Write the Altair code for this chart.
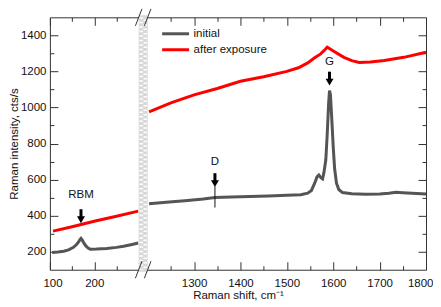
import altair as alt
import pandas as pd

# ---------------- data ----------------
init_left_x = [105, 118, 131, 142, 153, 160, 165, 168, 170, 173, 177, 181, 186, 191, 205, 228, 250, 266, 285, 299]
init_left_y = [196, 198, 203, 210, 224, 240, 256, 268, 274, 264, 246, 232, 220, 214, 215, 218, 224, 230, 240, 248]

exp_left_x = [107, 150, 202, 250, 299]
exp_left_y = [314, 338, 370, 397, 425]

init_right_x = [1203, 1240, 1280, 1320, 1345, 1380, 1420, 1460, 1500, 1530, 1545, 1553,
                1560, 1565, 1569, 1573, 1577, 1580, 1584, 1587, 1590, 1592, 1594, 1597,
                1600, 1603, 1607, 1612, 1620, 1640, 1670, 1700, 1720, 1735, 1750, 1770, 1800]
init_right_y = [466, 474, 482, 492, 500, 503, 506, 509, 513, 516, 525, 540,
                580, 615, 625, 612, 604, 640, 710, 850, 1020, 1094, 1070, 930,
                780, 660, 580, 545, 528, 521, 519, 520, 524, 530, 527, 524, 520]

exp_right_x = [1203, 1250, 1300, 1350, 1400, 1450, 1500, 1525, 1545, 1560, 1573, 1580,
               1587, 1595, 1602, 1623, 1640, 1656, 1680, 1710, 1752, 1800]
exp_right_y = [975, 1025, 1070, 1105, 1145, 1170, 1200, 1220, 1247, 1276, 1297, 1315,
               1334, 1322, 1310, 1278, 1260, 1250, 1252, 1260, 1278, 1306]

series_names = ["initial", "after exposure"]
series_colors = ["#555555", "#ff0000"]

x_domain = [100, 300, 1200, 1800]       # broken axis: 100-300 | 1200-1800
y_domain = [100, 1500]
x_major = [100, 200, 1300, 1400, 1500, 1600, 1700, 1800]
x_minor = [150, 250, 1250, 1350, 1450, 1550, 1650, 1750]
y_major = [200, 400, 600, 800, 1000, 1200, 1400]
y_minor = [300, 500, 700, 900, 1100, 1300]

ann_name = ["RBM", "D", "G"]
ann_x = [170, 1345, 1592]
ann_tip = [358, 558, 1121]
ann_text_y = [516, 695, 1250]
d_tick_x = [1345]
d_tick_y = [445]
d_tick_y2 = [562]

# ---------------- tables ----------------
rows = []
for xv, yv, s, seg in [(init_left_x, init_left_y, "initial", "L"),
                       (init_right_x, init_right_y, "initial", "R"),
                       (exp_left_x, exp_left_y, "after exposure", "L"),
                       (exp_right_x, exp_right_y, "after exposure", "R")]:
    for x, y in zip(xv, yv):
        rows.append({"x": x, "y": y, "series": s, "seg": seg})
df = pd.DataFrame(rows)

brk_lo, brk_hi = x_domain[1], x_domain[2]
band = pd.DataFrame({"x": [brk_lo], "x2": [brk_hi], "y": [y_domain[1]], "y2": [y_domain[0]],
                     "xc": [(brk_lo + brk_hi) / 2]})
brk = pd.DataFrame({"x": [brk_lo, brk_hi, brk_lo, brk_hi],
                    "y": [y_domain[0], y_domain[0], y_domain[1], y_domain[1]]})
ann = pd.DataFrame({"name": ann_name, "x": ann_x, "tip": ann_tip, "ty": ann_text_y})
dtick = pd.DataFrame({"x": d_tick_x, "y": d_tick_y, "y2": d_tick_y2})

FONT = "Liberation Sans"
FS = 11.5
W, H = 377, 253
xs = alt.Scale(domain=x_domain, range=[0, 89, 98, W], nice=False, zero=False)
ys = alt.Scale(domain=y_domain, nice=False, zero=False)


def axis(orient, values, size, labels, **kw):
    return alt.Axis(orient=orient, values=values, tickSize=size, offset=-size,
                    labels=labels, domain=False, grid=False, ticks=True, format="d",
                    tickColor="#333333", tickWidth=1, **kw)


def X(f):
    return alt.X(f, scale=xs, axis=None)


def Y(f):
    return alt.Y(f, scale=ys, axis=None)


lines = alt.Chart(df).mark_line(strokeWidth=3).encode(
    x=alt.X("x:Q", scale=xs, title="Raman shift, cm\u207b\u00b9",
            axis=axis("bottom", x_major, 8, True, labelPadding=8, titlePadding=0,
                      labelFlush=True, labelFlushOffset=7)),
    y=alt.Y("y:Q", scale=ys, title="Raman intensity, cts/s",
            axis=axis("left", y_major, 8, True, labelPadding=4, titlePadding=1,
                      labelFlush=False)),
    color=alt.Color("series:N",
                    scale=alt.Scale(domain=series_names, range=series_colors),
                    legend=alt.Legend(orient="none", legendX=119.5, legendY=10, title=None,
                                      symbolType="M-2.7,0H2.7", symbolSize=100,
                                      symbolStrokeWidth=3,
                                      labelFont=FONT, labelFontSize=FS, labelColor="#111111",
                                      labelOffset=11.5, rowPadding=3, padding=0)),
    detail="seg:N",
)


def ghost(xo, yo, xv, yv, size):
    return alt.Chart(df).mark_point(opacity=0).encode(
        x=alt.X("x:Q", scale=xs, title=None, axis=axis(xo, xv, size, False)),
        y=alt.Y("y:Q", scale=ys, title=None, axis=axis(yo, yv, size, False)),
    )


minor_bl = ghost("bottom", "left", x_minor, y_minor, 4)
major_tr = ghost("top", "right", x_major, y_major, 8)
minor_tr = ghost("top", "right", x_minor, y_minor, 4)

band_rect = alt.Chart(band).mark_rect(color="#d8d8d8", yOffset=-2, y2Offset=2).encode(
    x=X("x:Q"), x2="x2:Q", y=Y("y:Q"), y2="y2:Q")
band_w1 = alt.Chart(band).mark_rule(color="white", strokeWidth=3.5, strokeDash=[1.5, 3],
                                     xOffset=-2, x2Offset=-2).encode(
    x=X("xc:Q"), y=Y("y:Q"), y2="y2:Q")
band_w2 = alt.Chart(band).mark_rule(color="white", strokeWidth=3.5, strokeDash=[1.5, 3],
                                     strokeDashOffset=2.2, xOffset=2, x2Offset=2).encode(
    x=X("xc:Q"), y=Y("y:Q"), y2="y2:Q")

breaks = alt.Chart(brk).mark_rule(color="#333333", strokeWidth=1, xOffset=-3.3, x2Offset=3.3,
                                  yOffset=8.5, y2Offset=-8.5, clip=False).encode(
    x=X("x:Q"), x2="x:Q", y=Y("y:Q"), y2="y:Q")

shaft = alt.Chart(ann).mark_rule(color="black", strokeWidth=3, yOffset=-5, y2Offset=-14).encode(
    x=X("x:Q"), y=Y("tip:Q"), y2="tip:Q")
head = alt.Chart(ann).mark_point(shape="triangle-down", filled=True, size=64, opacity=1,
                                 color="black", yOffset=-3.5).encode(x=X("x:Q"), y=Y("tip:Q"))
labels = alt.Chart(ann).mark_text(font=FONT, fontSize=FS, color="#111111",
                                  baseline="middle", align="center").encode(
    x=X("x:Q"), y=Y("ty:Q"), text="name:N")
dline = alt.Chart(dtick).mark_rule(color="#111111", strokeWidth=1).encode(
    x=X("x:Q"), y=Y("y:Q"), y2="y2:Q")

chart = alt.layer(
    lines, minor_bl, major_tr, minor_tr,
    band_rect, band_w1, band_w2, breaks,
    dline, shaft, head, labels,
).resolve_axis(x="independent", y="independent").properties(
    width=W, height=H, padding={"left": 0, "top": 0, "right": 0, "bottom": 0}
).configure_view(stroke="#333333", strokeWidth=1).configure_axis(
    labelFont=FONT, titleFont=FONT, labelFontSize=FS, titleFontSize=FS,
    labelColor="#111111", titleColor="#111111", titleFontWeight="normal"
)

chart.save("out.html", embed_options={"renderer": "svg", "actions": False})
